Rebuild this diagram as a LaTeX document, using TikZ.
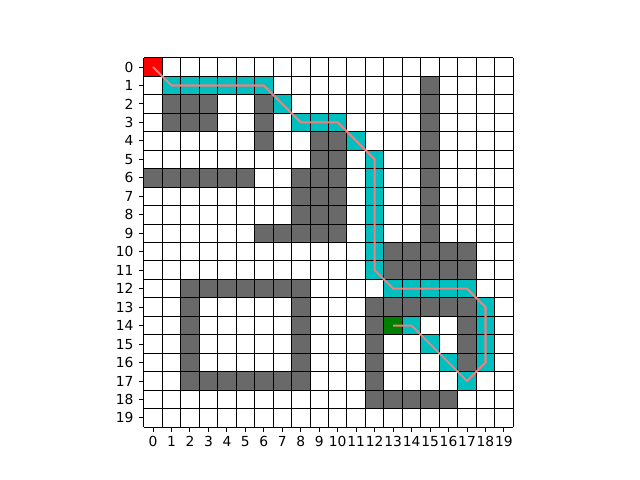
\documentclass[tikz,border=0pt]{standalone}
\usepackage{fontspec}
\setmainfont{DejaVu Sans}
\definecolor{obstgray}{RGB}{105,105,105}
\definecolor{pathcyan}{RGB}{0,191,191}
\definecolor{startred}{RGB}{255,0,0}
\definecolor{goalgreen}{RGB}{0,128,0}
\definecolor{routecoral}{RGB}{240,128,128}
\begin{document}
\begin{tikzpicture}[x=4.6914mm, y=-4.6914mm,
    obst/.style={fill=obstgray},
    visited/.style={fill=pathcyan},
    route/.style={routecoral, line width=1.5bp, line join=miter},
    gridline/.style={black, line width=0.72bp},
    tick/.style={black, line width=0.72bp},
    ticklabel/.style={inner sep=0pt, font=\fontsize{10}{12}\selectfont}]
    \useasboundingbox (-7.786,-3.129) rectangle (26.866,22.860);

    \foreach \r/\c in {2/1,2/2,2/3,3/1,3/2,3/3,2/6,3/6,4/6,
                       4/9,4/10,5/9,5/10,
                       6/0,6/1,6/2,6/3,6/4,6/5,
                       6/8,6/9,6/10,7/8,7/9,7/10,8/8,8/9,8/10,
                       9/6,9/7,9/8,9/9,9/10,
                       1/15,2/15,3/15,4/15,5/15,6/15,7/15,8/15,9/15,
                       10/13,10/14,10/15,10/16,10/17,11/13,11/14,11/15,11/16,11/17,
                       12/2,12/3,12/4,12/5,12/6,12/7,12/8,
                       13/2,14/2,15/2,16/2,13/8,14/8,15/8,16/8,
                       17/2,17/3,17/4,17/5,17/6,17/7,17/8,
                       13/12,13/13,13/14,13/15,13/16,13/17,
                       14/12,15/12,16/12,17/12,14/17,15/17,16/17,
                       18/12,18/13,18/14,18/15,18/16} {
        \fill[obst] (\c,\r) rectangle ++(1,1);
    }

    \foreach \r/\c in {1/1,1/2,1/3,1/4,1/5,1/6,2/7,3/8,3/9,3/10,4/11,
                       5/12,6/12,7/12,8/12,9/12,10/12,11/12,
                       12/13,12/14,12/15,12/16,12/17,
                       13/18,14/18,15/18,16/18,17/17,16/16,15/15,14/14} {
        \fill[visited] (\c,\r) rectangle ++(1,1);
    }

    \fill[startred] (0,0) rectangle (1,1);
    \fill[goalgreen] (13,14) rectangle (14,15);

    \foreach \i in {0,...,20} {
        \draw[gridline] (\i,0) -- (\i,20);
        \draw[gridline] (0,\i) -- (20,\i);
    }

    \coordinate (start) at (0.5,0.5);
    \coordinate (t1) at (1.5,1.5);
    \coordinate (t2) at (6.5,1.5);
    \coordinate (t3) at (8.5,3.5);
    \coordinate (t4) at (10.5,3.5);
    \coordinate (t5) at (12.5,5.5);
    \coordinate (t6) at (12.5,11.5);
    \coordinate (t7) at (13.5,12.5);
    \coordinate (t8) at (17.5,12.5);
    \coordinate (t9) at (18.5,13.5);
    \coordinate (t10) at (18.5,16.5);
    \coordinate (t11) at (17.5,17.5);
    \coordinate (t12) at (14.5,14.5);
    \coordinate (goal) at (13.5,14.5);

    \draw[route] (start) -- (t1) -- (t2) -- (t3) -- (t4) -- (t5) -- (t6) -- (t7)
        -- (t8) -- (t9) -- (t10) -- (t11) -- (t12) -- (goal);

    \foreach \i in {0,...,19} {
        \draw[tick] (\i+0.5,20) -- (\i+0.5,20.25);
        \node[ticklabel, anchor=north] (xlab\i) at (\i+0.5,20.47) {\i};
        \draw[tick] (0,\i+0.5) -- (-0.25,\i+0.5);
        \node[ticklabel, anchor=east] (ylab\i) at (-0.55,\i+0.5) {\i};
    }
\end{tikzpicture}
\end{document}
